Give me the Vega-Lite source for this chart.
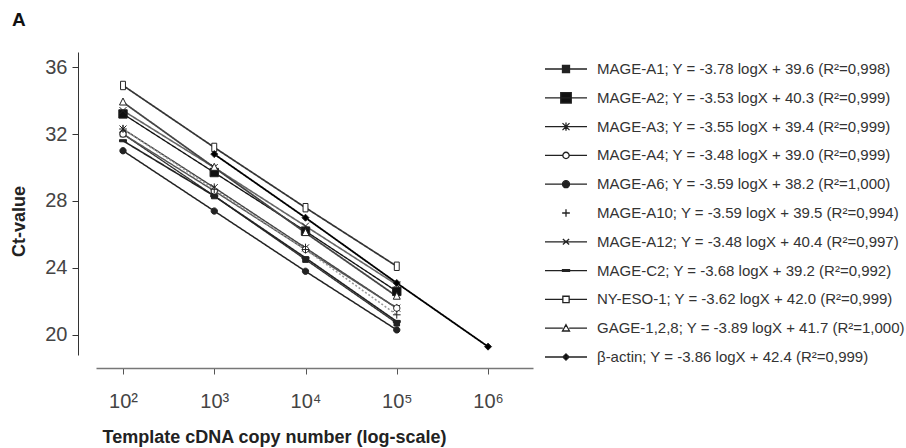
{
  "$schema": "https://vega.github.io/schema/vega-lite/v6.json",
  "autosize": {"type": "none"},
  "padding": {"left": 96, "top": 52, "right": 373, "bottom": 93},
  "width": 437,
  "height": 303,
  "background": "white",
  "title": {"text": "A", "anchor": "start", "frame": "group", "dx": -84, "dy": -18, "fontSize": 19, "fontWeight": "bold", "color": "#111", "font": "Liberation Sans"},
  "config": {
    "view": {"stroke": null},
    "font": "Liberation Sans",
    "axis": {"grid": false}
  },
  "datasets": {
    "legend": [
      {"label": "MAGE-A1; Y = -3.78 logX + 39.6 (R²=0,998)"},
      {"label": "MAGE-A2; Y = -3.53 logX + 40.3 (R²=0,999)"},
      {"label": "MAGE-A3; Y = -3.55 logX + 39.4 (R²=0,999)"},
      {"label": "MAGE-A4; Y = -3.48 logX + 39.0 (R²=0,999)"},
      {"label": "MAGE-A6;  Y = -3.59 logX + 38.2 (R²=1,000)"},
      {"label": "MAGE-A10; Y = -3.59 logX + 39.5 (R²=0,994)"},
      {"label": "MAGE-A12; Y = -3.48 logX + 40.4 (R²=0,997)"},
      {"label": "MAGE-C2; Y = -3.68 logX + 39.2 (R²=0,992)"},
      {"label": "NY-ESO-1; Y = -3.62 logX + 42.0 (R²=0,999)"},
      {"label": "GAGE-1,2,8; Y = -3.89 logX + 41.7 (R²=1,000)"},
      {"label": "β-actin; Y = -3.86 logX + 42.4 (R²=0,999)"}
    ]
  },
  "data": {
    "values": [
      {"gene": "MAGE-A1", "copies": 100, "ct": 32.0},
      {"gene": "MAGE-A1", "copies": 1000, "ct": 28.3},
      {"gene": "MAGE-A1", "copies": 10000, "ct": 24.5},
      {"gene": "MAGE-A1", "copies": 100000, "ct": 20.7},
      {"gene": "MAGE-A2", "copies": 100, "ct": 33.2},
      {"gene": "MAGE-A2", "copies": 1000, "ct": 29.7},
      {"gene": "MAGE-A2", "copies": 10000, "ct": 26.2},
      {"gene": "MAGE-A2", "copies": 100000, "ct": 22.6},
      {"gene": "MAGE-A3", "copies": 100, "ct": 32.3},
      {"gene": "MAGE-A3", "copies": 1000, "ct": 28.8},
      {"gene": "MAGE-A3", "copies": 10000, "ct": 25.2},
      {"gene": "MAGE-A3", "copies": 100000, "ct": 21.6},
      {"gene": "MAGE-A4", "copies": 100, "ct": 32.0},
      {"gene": "MAGE-A4", "copies": 1000, "ct": 28.6},
      {"gene": "MAGE-A4", "copies": 10000, "ct": 25.1},
      {"gene": "MAGE-A4", "copies": 100000, "ct": 21.6},
      {"gene": "MAGE-A6", "copies": 100, "ct": 31.0},
      {"gene": "MAGE-A6", "copies": 1000, "ct": 27.4},
      {"gene": "MAGE-A6", "copies": 10000, "ct": 23.8},
      {"gene": "MAGE-A6", "copies": 100000, "ct": 20.3},
      {"gene": "MAGE-A10", "copies": 100, "ct": 32.3},
      {"gene": "MAGE-A10", "copies": 1000, "ct": 28.7},
      {"gene": "MAGE-A10", "copies": 10000, "ct": 25.1},
      {"gene": "MAGE-A10", "copies": 100000, "ct": 21.2},
      {"gene": "MAGE-A12", "copies": 100, "ct": 33.4},
      {"gene": "MAGE-A12", "copies": 1000, "ct": 30.0},
      {"gene": "MAGE-A12", "copies": 10000, "ct": 26.5},
      {"gene": "MAGE-A12", "copies": 100000, "ct": 23.0},
      {"gene": "MAGE-C2", "copies": 100, "ct": 31.6},
      {"gene": "MAGE-C2", "copies": 1000, "ct": 28.3},
      {"gene": "MAGE-C2", "copies": 10000, "ct": 24.6},
      {"gene": "MAGE-C2", "copies": 100000, "ct": 20.8},
      {"gene": "NY-ESO-1", "copies": 100, "ct": 34.9},
      {"gene": "NY-ESO-1", "copies": 1000, "ct": 31.2},
      {"gene": "NY-ESO-1", "copies": 10000, "ct": 27.6},
      {"gene": "NY-ESO-1", "copies": 100000, "ct": 24.1},
      {"gene": "GAGE-1,2,8", "copies": 100, "ct": 33.9},
      {"gene": "GAGE-1,2,8", "copies": 1000, "ct": 30.0},
      {"gene": "GAGE-1,2,8", "copies": 10000, "ct": 26.1},
      {"gene": "GAGE-1,2,8", "copies": 100000, "ct": 22.3},
      {"gene": "β-actin", "copies": 1000, "ct": 30.8},
      {"gene": "β-actin", "copies": 10000, "ct": 27.0},
      {"gene": "β-actin", "copies": 100000, "ct": 23.1},
      {"gene": "β-actin", "copies": 1000000, "ct": 19.3}
    ]
  },
  "layer": [
    {
      "mark": {"type": "line"},
      "encoding": {
        "x": {
          "field": "copies", "type": "quantitative",
          "scale": {"type": "log", "domain": [50.6, 3110000], "nice": false},
          "axis": {
            "values": [100, 1000, 10000, 100000, 1000000],
            "labelExpr": "'10' + ['⁰','¹','²','³','⁴','⁵','⁶'][round(log(datum.value)/LN10)]",
            "offset": 13,
            "domainColor": "#777", "domainWidth": 1.5,
            "tickColor": "#555", "tickSize": 6,
            "labelFontSize": 20, "labelColor": "#444", "labelPadding": 17,
            "title": "Template cDNA copy number (log-scale)",
            "titleFontSize": 18, "titleFontWeight": "bold", "titleColor": "#222",
            "titleX": 178, "titleY": 74, "titleBaseline": "alphabetic", "titleAlign": "center"
          }
        },
        "y": {
          "field": "ct", "type": "quantitative",
          "scale": {"domain": [18.8, 36.9], "nice": false, "zero": false},
          "axis": {
            "values": [20, 22, 24, 26, 28, 30, 32, 34, 36],
            "labelExpr": "datum.value % 4 == 0 ? datum.label : ''",
            "offset": 18,
            "domainColor": "#333", "tickColor": "#333", "tickSize": 6,
            "labelFontSize": 20, "labelColor": "#444", "labelPadding": 5,
            "title": "Ct-value",
            "titleFontSize": 18, "titleFontWeight": "bold", "titleColor": "#222",
            "titleX": -59, "titleY": 169, "titleBaseline": "middle", "titleAlign": "center", "titleAngle": -90
          }
        },
        "detail": {"field": "gene"},
        "stroke": {
          "field": "gene", "type": "nominal", "legend": null,
          "scale": {
            "domain": ["MAGE-A1","MAGE-A2","MAGE-A3","MAGE-A4","MAGE-A6","MAGE-A10","MAGE-A12","MAGE-C2","NY-ESO-1","GAGE-1,2,8","β-actin"],
            "range": ["#333","#111","#444","#555","#222","#999","#666","#222","#333","#444","#000"]
          }
        },
        "strokeWidth": {
          "field": "gene", "type": "nominal", "legend": null,
          "scale": {
            "domain": ["MAGE-A1","MAGE-A2","MAGE-A3","MAGE-A4","MAGE-A6","MAGE-A10","MAGE-A12","MAGE-C2","NY-ESO-1","GAGE-1,2,8","β-actin"],
            "range": [1.3, 1.8, 1.3, 1.3, 1.3, 1.2, 1.3, 1.3, 1.3, 1.3, 2.4]
          }
        },
        "strokeDash": {
          "field": "gene", "type": "nominal", "legend": null,
          "scale": {
            "domain": ["MAGE-A1","MAGE-A2","MAGE-A3","MAGE-A4","MAGE-A6","MAGE-A10","MAGE-A12","MAGE-C2","NY-ESO-1","GAGE-1,2,8","β-actin"],
            "range": [[1,0],[1,0],[1,0],[1,0],[1,0],[2,2],[1,0],[1,0],[1,0],[1,0],[1,0]]
          }
        }
      }
    },
    {
      "mark": {"type": "point", "stroke": "#222", "strokeWidth": 1, "opacity": 1, "size": 49},
      "encoding": {
        "x": {"field": "copies", "type": "quantitative"},
        "y": {"field": "ct", "type": "quantitative"},
        "shape": {"field": "gene", "type": "nominal"},
        "fill": {"field": "gene", "type": "nominal"}
      }
    },
    {
      "data": {"name": "legend"},
      "mark": {"type": "point", "stroke": "#333", "strokeWidth": 1.3, "opacity": 0, "size": 196},
      "encoding": {
        "shape": {
          "field": "label", "type": "nominal",
          "scale": {
            "domain": [
              "MAGE-A1; Y = -3.78 logX + 39.6 (R²=0,998)",
              "MAGE-A2; Y = -3.53 logX + 40.3 (R²=0,999)",
              "MAGE-A3; Y = -3.55 logX + 39.4 (R²=0,999)",
              "MAGE-A4; Y = -3.48 logX + 39.0 (R²=0,999)",
              "MAGE-A6;  Y = -3.59 logX + 38.2 (R²=1,000)",
              "MAGE-A10; Y = -3.59 logX + 39.5 (R²=0,994)",
              "MAGE-A12; Y = -3.48 logX + 40.4 (R²=0,997)",
              "MAGE-C2; Y = -3.68 logX + 39.2 (R²=0,992)",
              "NY-ESO-1; Y = -3.62 logX + 42.0 (R²=0,999)",
              "GAGE-1,2,8; Y = -3.89 logX + 41.7 (R²=1,000)",
              "β-actin; Y = -3.86 logX + 42.4 (R²=0,999)",
              "MAGE-A1","MAGE-A2","MAGE-A3","MAGE-A4","MAGE-A6","MAGE-A10","MAGE-A12","MAGE-C2","NY-ESO-1","GAGE-1,2,8","β-actin"
            ],
            "range": [
              "M-3,0H3M-0.5,-0.5H0.5V0.5H-0.5Z",
              "M-3,0H3M-0.75,-0.75H0.75V0.75H-0.75Z",
              "M-3,0H3M-0.5,-0.5L0.5,0.5M-0.5,0.5L0.5,-0.5M0,-0.6V0.6",
              "M-3,0H-0.45M0.45,0H3M0.45,0A0.45,0.45 0 1,1 -0.45,0A0.45,0.45 0 1,1 0.45,0Z",
              "M-3,0H3M0.5,0A0.5,0.5 0 1,1 -0.5,0A0.5,0.5 0 1,1 0.5,0Z",
              "M-0.55,0H0.55M0,-0.55V0.55",
              "M-3,0H3M-0.45,-0.4L0.45,0.4M-0.45,0.4L0.45,-0.4",
              "M-3,0H3M-0.5,-0.12H0.5V0.12H-0.5Z",
              "M-3,0H-0.45M0.45,0H3M-0.45,-0.45H0.45V0.45H-0.45Z",
              "M-3,0H-0.45M0.45,0H3M0,-0.5L0.5,0.4H-0.5Z",
              "M-3,0H3M0,-0.45L0.45,0L0,0.45L-0.45,0Z",
              "M-0.8,-0.8H0.8V0.8H-0.8Z",
              "M-1.2,-1.2H1.2V1.2H-1.2Z",
              "M-1,-1L1,1M-1,1L1,-1M0,-1.2V1.2",
              "M0.9,0A0.9,0.9 0 1,1 -0.9,0A0.9,0.9 0 1,1 0.9,0Z",
              "M0.9,0A0.9,0.9 0 1,1 -0.9,0A0.9,0.9 0 1,1 0.9,0Z",
              "M-1.1,0H1.1M0,-1.1V1.1",
              "M-1,-1L1,1M-1,1L1,-1",
              "M-1,-0.3H1V0.3H-1Z",
              "M-0.7,-1.2H0.7V1.2H-0.7Z",
              "M0,-1.2L1,0.8H-1Z",
              "M0,-1L1,0L0,1L-1,0Z"
            ]
          },
          "legend": {
            "title": null,
            "orient": "none",
            "legendX": 462,
            "legendY": 9,
            "padding": 0,
            "values": [
              "MAGE-A1; Y = -3.78 logX + 39.6 (R²=0,998)",
              "MAGE-A2; Y = -3.53 logX + 40.3 (R²=0,999)",
              "MAGE-A3; Y = -3.55 logX + 39.4 (R²=0,999)",
              "MAGE-A4; Y = -3.48 logX + 39.0 (R²=0,999)",
              "MAGE-A6;  Y = -3.59 logX + 38.2 (R²=1,000)",
              "MAGE-A10; Y = -3.59 logX + 39.5 (R²=0,994)",
              "MAGE-A12; Y = -3.48 logX + 40.4 (R²=0,997)",
              "MAGE-C2; Y = -3.68 logX + 39.2 (R²=0,992)",
              "NY-ESO-1; Y = -3.62 logX + 42.0 (R²=0,999)",
              "GAGE-1,2,8; Y = -3.89 logX + 41.7 (R²=1,000)",
              "β-actin; Y = -3.86 logX + 42.4 (R²=0,999)"
            ],
            "symbolSize": 196,
            "symbolOpacity": 1,
            "symbolStrokeColor": "#333",
            "symbolStrokeWidth": 1.3,
            "labelOffset": 23,
            "labelFontSize": 15,
            "labelColor": "#333",
            "labelLimit": 400,
            "rowPadding": 12.8,
            "encode": {"symbols": {"update": {"opacity": {"value": 1}, "size": {"value": 196}, "stroke": {"value": "#333"}, "strokeWidth": {"value": 1.3}}}}
          }
        },
        "fill": {
          "field": "label", "type": "nominal",
          "scale": {
            "domain": [
              "MAGE-A1; Y = -3.78 logX + 39.6 (R²=0,998)",
              "MAGE-A2; Y = -3.53 logX + 40.3 (R²=0,999)",
              "MAGE-A3; Y = -3.55 logX + 39.4 (R²=0,999)",
              "MAGE-A4; Y = -3.48 logX + 39.0 (R²=0,999)",
              "MAGE-A6;  Y = -3.59 logX + 38.2 (R²=1,000)",
              "MAGE-A10; Y = -3.59 logX + 39.5 (R²=0,994)",
              "MAGE-A12; Y = -3.48 logX + 40.4 (R²=0,997)",
              "MAGE-C2; Y = -3.68 logX + 39.2 (R²=0,992)",
              "NY-ESO-1; Y = -3.62 logX + 42.0 (R²=0,999)",
              "GAGE-1,2,8; Y = -3.89 logX + 41.7 (R²=1,000)",
              "β-actin; Y = -3.86 logX + 42.4 (R²=0,999)",
              "MAGE-A1","MAGE-A2","MAGE-A3","MAGE-A4","MAGE-A6","MAGE-A10","MAGE-A12","MAGE-C2","NY-ESO-1","GAGE-1,2,8","β-actin"
            ],
            "range": ["#222","#111","#222","#ffffff","#222","#222","#222","#222","#ffffff","#ffffff","#000",
                      "#222","#111","#222","#ffffff","#222","#222","#222","#222","#ffffff","#ffffff","#000"]
          }
        }
      }
    }
  ]
}
